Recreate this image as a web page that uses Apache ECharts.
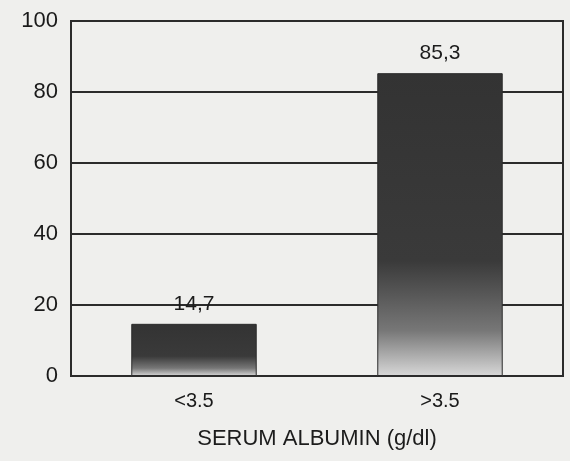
<!DOCTYPE html>
<html><head><meta charset="utf-8">
<script src="https://cdn.jsdelivr.net/npm/echarts@6/dist/echarts.min.js"></script>
<style>html,body{margin:0;padding:0;background:#efefed;}#c{width:570px;height:461px;}</style>
</head><body><div id="c"></div>
<script>
const categories = ['<3.5', '>3.5'];
const values = [14.7, 85.3];
const yTicks = [0, 20, 40, 60, 80, 100];

const chart = echarts.init(document.getElementById('c'));
const barColor = new echarts.graphic.LinearGradient(0, 0, 0, 1, [
  {offset: 0, color: '#333333'},
  {offset: 0.62, color: '#3a3a3a'},
  {offset: 0.85, color: '#777777'},
  {offset: 1, color: '#d8d8d8'}
]);
chart.setOption({
  backgroundColor: '#efefed',
  animation: false,
  grid: {left: 71, right: 7, top: 21, bottom: 85, show: true, borderColor: '#2b2b2b', borderWidth: 2, backgroundColor: 'transparent'},
  xAxis: {
    type: 'category', data: categories,
    name: 'SERUM ALBUMIN (g/dl)', nameLocation: 'middle', nameGap: 52,
    nameTextStyle: {fontFamily: 'Liberation Sans', fontSize: 22, color: '#1c1c1c'},
    axisLine: {lineStyle: {color: '#2b2b2b', width: 2}},
    axisTick: {show: true, alignWithLabel: true, inside: true, length: 6, lineStyle: {color: '#2b2b2b', width: 2}},
    axisLabel: {fontFamily: 'Liberation Sans', fontSize: 20, color: '#1a1a1a', margin: 15, letterSpacing: -2}
  },
  yAxis: {
    type: 'value', min: 0, max: 100, interval: 20,
    axisLine: {show: true, lineStyle: {color: '#2b2b2b', width: 2}},
    axisTick: {show: false},
    splitLine: {lineStyle: {color: '#2b2b2b', width: 2}},
    axisLabel: {fontFamily: 'Liberation Sans', fontSize: 22, color: '#1a1a1a', margin: 13,
      formatter: v => yTicks.includes(v) ? String(v) : ''}
  },
  series: [{
    type: 'bar', data: values, barWidth: '51%',
    itemStyle: {color: barColor, borderColor: '#2b2b2b', borderWidth: 1},
    label: {show: true, position: 'top', distance: 9, fontFamily: 'Liberation Sans', fontSize: 21, color: '#1c1c1c',
      formatter: p => String(p.value).replace('.', ',')}
  }]
});
</script></body></html>
